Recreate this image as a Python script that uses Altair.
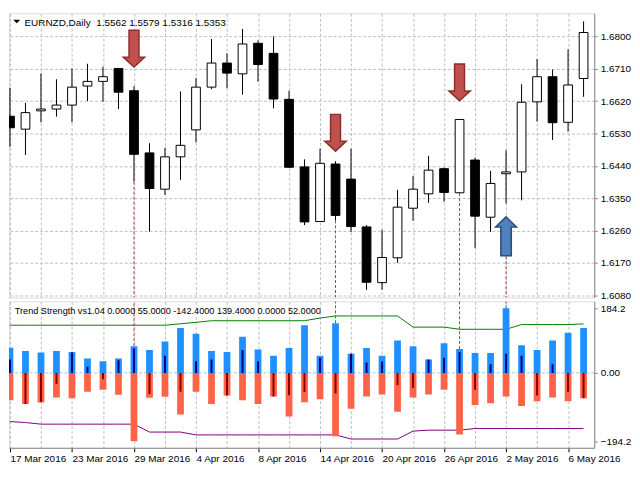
import json
import altair as alt
import pandas as pd

# ---------------- layout scale (reference 640x480 -> page with 8px margin)
SX = 0.975
SY = 0.96
FONT = "Liberation Sans"

# ---------------- data
dates = ["17 Mar 2016", "18 Mar 2016", "21 Mar 2016", "22 Mar 2016", "23 Mar 2016",
         "24 Mar 2016", "25 Mar 2016", "28 Mar 2016", "29 Mar 2016", "30 Mar 2016",
         "31 Mar 2016", "1 Apr 2016", "4 Apr 2016", "5 Apr 2016", "6 Apr 2016",
         "7 Apr 2016", "8 Apr 2016", "11 Apr 2016", "12 Apr 2016", "13 Apr 2016",
         "14 Apr 2016", "15 Apr 2016", "18 Apr 2016", "19 Apr 2016", "20 Apr 2016",
         "21 Apr 2016", "22 Apr 2016", "25 Apr 2016", "26 Apr 2016", "27 Apr 2016",
         "28 Apr 2016", "29 Apr 2016", "2 May 2016", "3 May 2016", "4 May 2016",
         "5 May 2016", "6 May 2016", "9 May 2016"]

open_ = [1.6578, 1.6542, 1.6593, 1.6598, 1.6609, 1.6662, 1.6675, 1.6711, 1.6649, 1.6476,
         1.6375, 1.6465, 1.6540, 1.6659, 1.6726, 1.6696, 1.6781, 1.6753, 1.6625, 1.6437,
         1.6285, 1.6445, 1.6403, 1.6270, 1.6115, 1.6184, 1.6322, 1.6362, 1.6432, 1.6365,
         1.6456, 1.6297, 1.6418, 1.6423, 1.6618, 1.6688, 1.6561, 1.6683]
high = [1.6657, 1.6615, 1.6697, 1.6681, 1.6711, 1.6724, 1.6716, 1.6712, 1.6662, 1.6503,
        1.6490, 1.6647, 1.6684, 1.6793, 1.6753, 1.6821, 1.6789, 1.6800, 1.6649, 1.6458,
        1.6488, 1.6453, 1.6488, 1.6275, 1.6262, 1.6373, 1.6412, 1.6468, 1.6435, 1.6569,
        1.6463, 1.6426, 1.6483, 1.6667, 1.6737, 1.6708, 1.6764, 1.6842]
low = [1.6493, 1.6470, 1.6561, 1.6577, 1.6561, 1.6620, 1.6618, 1.6598, 1.6396, 1.6257,
       1.6359, 1.6401, 1.6505, 1.6653, 1.6656, 1.6638, 1.6674, 1.6600, 1.6434, 1.6275,
       1.6284, 1.6288, 1.6256, 1.6095, 1.6095, 1.6170, 1.6287, 1.6337, 1.6340, 1.6364,
       1.6211, 1.6256, 1.6335, 1.6344, 1.6563, 1.6512, 1.6535, 1.6632]
close = [1.6546, 1.6588, 1.6598, 1.6609, 1.6659, 1.6675, 1.6688, 1.6645, 1.6472, 1.6377,
         1.6465, 1.6497, 1.6659, 1.6726, 1.6698, 1.6779, 1.6722, 1.6626, 1.6436, 1.6284,
         1.6447, 1.6302, 1.6271, 1.6116, 1.6185, 1.6325, 1.6375, 1.6428, 1.6366, 1.6569,
         1.6300, 1.6391, 1.6423, 1.6617, 1.6688, 1.6560, 1.6665, 1.6811]

trend_up = [71.4, 62.4, 57.9, 62.4, 59.7, 40.7, 33.5, 40.7, 76.0, 65.1,
            89.6, 127.6, 111.3, 62.4, 59.7, 103.2, 66.9, 48.9, 70.6, 135.7,
            48.9, 141.2, 54.3, 70.6, 48.9, 92.3, 76.0, 38.0, 84.1, 67.9,
            57.0, 57.0, 184.2, 78.7, 65.1, 92.3, 114.0, 127.6]
trend_down = [-77.9, -88.7, -84.1, -69.7, -72.4, -53.4, -48.0, -62.4, -194.2, -70.6,
              -67.9, -118.6, -53.4, -88.7, -64.2, -77.9, -88.7, -67.0, -124.0, -83.2,
              -75.1, -180.0, -102.3, -67.0, -61.5, -110.5, -69.7, -61.5, -48.0, -175.5,
              -91.4, -86.0, -67.0, -94.2, -80.6, -69.7, -80.6, -72.4]
trend_net = [38.0, -88.7, -82.3, -31.7, 57.9, 17.2, -18.1, 36.2, 69.7, -59.7,
             48.9, -53.4, 33.5, 38.0, -64.2, 65.1, 32.6, -67.0, -63.3, -54.3,
             43.4, -58.8, 54.3, 29.9, 32.6, -34.4, -42.6, 38.0, 43.4, 59.7,
             -48.0, 24.4, 54.3, 48.9, -64.2, 24.4, -53.4, -72.4]
upper_band = [135.7, 135.7, 135.7, 135.7, 135.7, 135.7, 135.7, 135.7, 135.7, 135.7,
              135.7, 139.8, 143.9, 148.5, 148.5, 148.5, 148.5, 148.5, 148.5, 148.5,
              156.1, 162.1, 162.1, 162.1, 162.1, 162.1, 130.3, 130.3, 130.3, 124.1,
              124.1, 124.1, 124.1, 137.6, 137.6, 137.6, 137.6, 139.4]
lower_band = [-138.4, -141.2, -145.8, -145.8, -145.8, -145.8, -145.8, -145.8, -145.8, -168.3,
              -168.3, -168.3, -176.4, -176.4, -176.4, -176.4, -176.4, -176.4, -176.4, -176.4,
              -176.4, -176.4, -188.1, -188.1, -188.1, -188.1, -165.6, -162.9, -162.9, -162.9,
              -158.3, -158.3, -158.3, -158.3, -158.3, -158.3, -158.3, -158.3]

sell_idx = [8, 21, 29]
sell_arrow = [1.6766, 1.6532, 1.6672]
buy_idx = [32]
buy_arrow = [1.6244]

price_ticks = [1.6080, 1.6170, 1.6260, 1.6350, 1.6440, 1.6530, 1.6620, 1.6710, 1.6800]
ind_ticks = [184.2, 0.0, -194.2]

main_title = "EURNZD,Daily\u00a0\u00a01.5562 1.5579 1.5316 1.5353"
ind_title = "Trend Strength vs1.04 0.0000 55.0000 -142.4000 139.4000 0.0000 52.0000"

# ---------------- frames
n = len(dates)
df = pd.DataFrame({
    "i": list(range(n)), "date": dates,
    "open": open_, "high": high, "low": low, "close": close,
    "up": trend_up, "down": trend_down, "net": trend_net,
    "upper": upper_band, "lower": lower_band,
})
sig_idx = sell_idx + buy_idx
sig = pd.DataFrame({
    "i": sig_idx,
    "start": [low[k] for k in sell_idx] + buy_arrow,
    "up": [trend_up[k] for k in sig_idx],
})
sells = pd.DataFrame({"i": sell_idx, "p": sell_arrow})
buys = pd.DataFrame({"i": buy_idx, "p": buy_arrow})

W = 604 * SX
HM = 298 * SY
HI = 153.5 * SY
GAP = 3 * SY
TOP = 3 * SY

GRID = "#c0c0c0"
SIGC = "#b83c3c"

grid_vals = list(range(0, n, 2))
xscale = alt.Scale(domain=[-0.0625, 37.6875], nice=False, zero=False, padding=0)
pscale = alt.Scale(domain=[1.607336, 1.686451], nice=False, zero=False, padding=0)
iscale = alt.Scale(domain=[-213.1, 203.6], nice=False, zero=False, padding=0)

xaxis_main = alt.Axis(values=grid_vals, grid=True, gridColor=GRID, gridDash=[3, 2],
                      labels=False, ticks=False, domain=False, title=None)
paxis = alt.Axis(orient="right", values=price_ticks, format=".4f", grid=True,
                 gridColor=GRID, gridDash=[3, 2], tickSize=3, labelPadding=3, title=None)

label_expr = "datum.value % 4 === 0 ? " + json.dumps(dates) + "[datum.value] : ''"
xaxis_ind = alt.Axis(values=grid_vals, grid=True, gridColor=GRID, gridDash=[3, 2],
                     labelExpr=label_expr, labelAlign="left", labelBaseline="top",
                     labelPadding=1.5, tickSize=4, labelOverlap=False, labelFlush=False,
                     tickColor={"condition": {"test": "datum.value % 4 === 0", "value": "black"},
                                "value": "transparent"},
                     title=None)
iaxis = alt.Axis(orient="right", values=ind_ticks, grid=False, tickSize=3, labelPadding=3,
                 labelExpr="datum.value === 0 ? '0.00' : format(datum.value, '.1f')", title=None)

XM = alt.X("i:Q", scale=xscale, axis=xaxis_main)
XI = alt.X("i:Q", scale=xscale, axis=xaxis_ind)


def yp(f):
    return alt.Y(f, scale=pscale, axis=paxis)


def yi(f):
    return alt.Y(f, scale=iscale, axis=iaxis)


DOWN = "M-0.27,-1 L0.27,-1 L0.27,0.46 L0.58,0.46 L0,1 L-0.58,0.46 L-0.27,0.46 Z"
UP = "M-0.27,1 L0.27,1 L0.27,-0.48 L0.54,-0.48 L0,-1 L-0.54,-0.48 L-0.27,-0.48 Z"

base = alt.Chart(df)

# ---------------- main price panel
sig_rule_m = alt.Chart(sig).mark_rule(color=SIGC, strokeDash=[3, 2], strokeWidth=1,
                                      clip=True).encode(
    x=XM, y=yp("start:Q"), y2=alt.value(HM))
wick = base.mark_rule(color="black", strokeWidth=1, clip=True).encode(
    x=XM, y=yp("low:Q"), y2="high:Q")
body = base.mark_bar(width=8.8, stroke="black", strokeWidth=1, clip=True).encode(
    x=XM, y=yp("open:Q"), y2="close:Q",
    fill=alt.condition("datum.close > datum.open", alt.value("white"), alt.value("black")))
sell_pts = alt.Chart(sells).mark_point(shape=DOWN, filled=True, fill="#c0504d", stroke="#8c2f2b",
                                       strokeWidth=1.5, size=37 * 37, opacity=1).encode(
    x=XM, y=yp("p:Q"))
buy_pts = alt.Chart(buys).mark_point(shape=UP, filled=True, fill="#4f81bd", stroke="#2c4d75",
                                     strokeWidth=1.5, size=39 * 39, opacity=1).encode(
    x=XM, y=yp("p:Q"))
tdf = pd.DataFrame({"t": [main_title]})
title_m = alt.Chart(tdf).mark_text(align="left", baseline="alphabetic", font=FONT,
                                   fontSize=10, color="black").encode(
    x=alt.value(16 * SX), y=alt.value(13 * SY), text="t:N")
tri = alt.Chart(tdf).mark_point(shape="M-1,-0.5 L1,-0.5 L0,0.5 Z", filled=True, color="black",
                                size=49, opacity=1).encode(
    x=alt.value(8 * SX), y=alt.value(8.6 * SY))

main = alt.layer(sig_rule_m, wick, body, sell_pts, buy_pts, title_m, tri).properties(
    width=W, height=HM)

# ---------------- indicator panel
zdf = pd.DataFrame({"z": [0.0]})
zero_rule = alt.Chart(zdf).mark_rule(color=GRID, strokeDash=[3, 2], strokeWidth=1,
                                     clip=True).encode(y=yi("z:Q"))
sig_rule_i = alt.Chart(sig).mark_rule(color=SIGC, strokeDash=[3, 2], strokeWidth=1,
                                      clip=True).encode(
    x=XI, y=yi("up:Q"), y2=alt.value(0))
green = base.mark_line(color="#008000", strokeWidth=1, clip=True).encode(
    x=XI, y=yi("upper:Q"))
purple = base.mark_line(color="#800080", strokeWidth=1, clip=True).encode(
    x=XI, y=yi("lower:Q"))
up_bar = base.mark_bar(width=6.8, color="#1e90ff", clip=True).encode(
    x=XI, y=yi("up:Q"), y2=alt.datum(0))
dn_bar = base.mark_bar(width=6.8, color="#ff6347", clip=True).encode(
    x=XI, y=yi("down:Q"), y2=alt.datum(0))
net_bar = base.mark_bar(width=2, clip=True).encode(
    x=XI, y=yi("net:Q"), y2=alt.datum(0),
    color=alt.condition("datum.net > 0", alt.value("#00008b"), alt.value("#8b0000")))
idf = pd.DataFrame({"t": [ind_title]})
title_i = alt.Chart(idf).mark_text(align="left", baseline="alphabetic", font=FONT,
                                   fontSize=9.2, color="black").encode(
    x=alt.value(6 * SX), y=alt.value(13.3 * SY), text="t:N")

ind = alt.layer(zero_rule, sig_rule_i, green, purple, up_bar, dn_bar, net_bar, title_i).properties(
    width=W, height=HI)

chart = alt.vconcat(main, ind, spacing=GAP, bounds="flush").properties(
    padding={"left": 0, "top": TOP, "right": 0, "bottom": 0}
).configure_view(stroke="black", strokeWidth=1).configure_axis(
    labelFont=FONT, labelFontSize=10, labelColor="black", domainColor="black",
    tickColor="black", domainWidth=1
).configure(font=FONT, background="white")

chart.save("out.html", embed_options={"renderer": "svg", "actions": False})
